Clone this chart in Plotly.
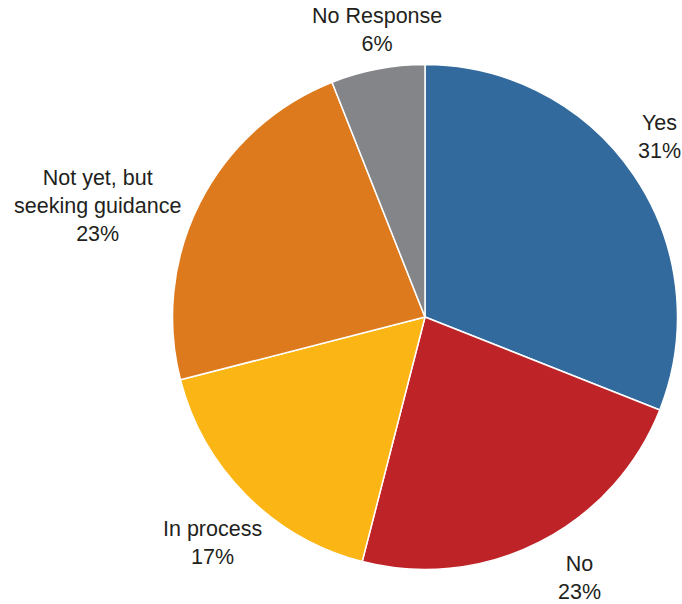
import math
import plotly.graph_objects as go

labels = ["Yes", "No", "In process", "Not yet, but<br>seeking guidance", "No Response"]
values = [31, 23, 17, 23, 6]
colors = ["#336A9D", "#BE2327", "#FBB616", "#DE7A1E", "#848589"]

# label offsets (px) from the slice's mid-angle point on the rim
label_shift = [(26, -38), (40, 36), (-34, 47), (-103, 4), (-1, -39)]

W, H = 682, 604
cx, cy, R = 425, 317, 252.5

fig = go.Figure(go.Pie(
    labels=labels,
    values=values,
    sort=False,
    direction="clockwise",
    rotation=0,
    marker=dict(colors=colors, line=dict(color="white", width=1.5)),
    textinfo="none",
    automargin=False,
    showlegend=False,
    hoverinfo="label+percent",
    domain=dict(x=[(cx - R) / W, (cx + R) / W], y=[(H - cy - R) / H, (H - cy + R) / H]),
))

total = sum(values)
cum = 0
annotations = []
for lab, v, (dx, dy) in zip(labels, values, label_shift):
    mid = (cum + v / 2) / total * 2 * math.pi
    cum += v
    px = cx + R * math.sin(mid)
    py = cy - R * math.cos(mid)
    annotations.append(dict(
        x=px / W, y=1 - py / H, xref="paper", yref="paper",
        text=f"{lab}<br>{round(v / total * 100)}%",
        showarrow=False, xanchor="center", yanchor="middle", align="center",
        xshift=dx, yshift=-dy,
        font=dict(family="Liberation Sans, Arial, sans-serif", size=21.5, color="#231F20"),
    ))

fig.update_layout(
    width=W, height=H,
    margin=dict(l=0, r=0, t=0, b=0),
    paper_bgcolor="white",
    plot_bgcolor="white",
    annotations=annotations,
)

fig.write_html(
    "out.html",
    config={"displayModeBar": False},
    post_script="document.body.style.margin='0';document.documentElement.style.overflow='hidden';",
)
